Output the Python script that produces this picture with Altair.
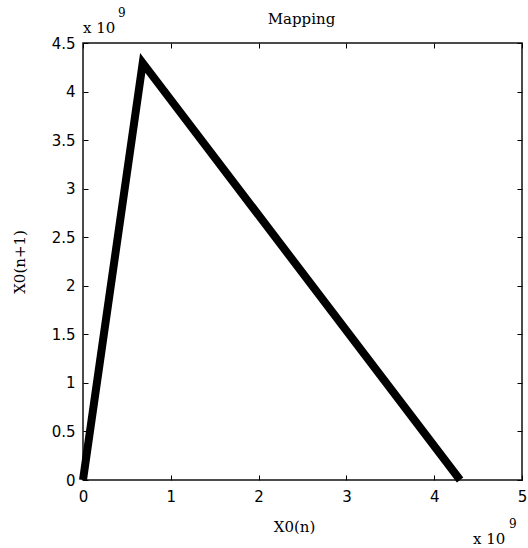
import altair as alt
import pandas as pd

# Mapping X0(n) -> X0(n+1): rises from the origin to the peak, then falls back to zero
x_vals = [0, 680000000, 4295000000]
y_vals = [0, 4295000000, 0]
step = [0, 1, 2]

x_ticks = [0, 1e9, 2e9, 3e9, 4e9, 5e9]
y_ticks = [0, 0.5e9, 1e9, 1.5e9, 2e9, 2.5e9, 3e9, 3.5e9, 4e9, 4.5e9]

title_text = "Mapping"
x_title = "X0(n)"
y_title = "X0(n+1)"
exp_base = "x 10"
exp_power = "9"

W, H = 439, 437
SERIF = "DejaVu Serif"
SANS = "DejaVu Sans"

df = pd.DataFrame({"x": x_vals, "y": y_vals, "step": step})

xs = alt.Scale(domain=[0, 5e9], nice=False, zero=False)
ys = alt.Scale(domain=[0, 4.5e9], nice=False, zero=False)

label_expr = "datum.value / 1e9"


def tick_axis(orient, values):
    # inward-pointing ticks with no labels or domain line
    return alt.Axis(orient=orient, values=values, labels=False, domain=False,
                    grid=False, ticks=True, tickSize=5, offset=-5,
                    tickColor="#000", tickWidth=1, title=None)


base = alt.Chart(df)

curve = base.mark_line(color="#000", strokeWidth=8, strokeJoin="miter",
                       strokeCap="butt").encode(
    x=alt.X("x:Q", scale=xs,
            axis=alt.Axis(orient="bottom", values=x_ticks, labelExpr=label_expr,
                          domain=False, ticks=False, grid=False, labelFlush=False,
                          labelFont=SANS, labelFontSize=15, labelColor="#000",
                          labelPadding=9, title=x_title, titleFont=SERIF,
                          titleFontSize=15, titleFontWeight="normal",
                          titleColor="#000", titlePadding=15, titleX=211)),
    y=alt.Y("y:Q", scale=ys,
            axis=alt.Axis(orient="left", values=y_ticks, labelExpr=label_expr,
                          domain=False, ticks=False, grid=False, labelFlush=False,
                          labelFont=SANS, labelFontSize=15, labelColor="#000",
                          labelPadding=8, title=y_title, titleFont=SERIF,
                          titleFontSize=15, titleFontWeight="normal",
                          titleColor="#000", titlePadding=24)),
    order="step:Q",
)

ticks_bl = base.mark_line(opacity=0).encode(
    x=alt.X("x:Q", scale=xs, axis=tick_axis("bottom", x_ticks)),
    y=alt.Y("y:Q", scale=ys, axis=tick_axis("left", y_ticks)),
    order="step:Q",
)

ticks_tr = base.mark_line(opacity=0).encode(
    x=alt.X("x:Q", scale=xs, axis=tick_axis("top", x_ticks)),
    y=alt.Y("y:Q", scale=ys, axis=tick_axis("right", y_ticks)),
    order="step:Q",
)


def note(text, px, py, size, align="left"):
    return alt.Chart(pd.DataFrame({"t": [text]})).mark_text(
        font=SERIF, fontSize=size, color="#000", align=align, baseline="middle"
    ).encode(x=alt.value(px), y=alt.value(py), text="t:N")


notes = [
    note(title_text, W / 2 - 1, -24, 15, align="center"),
    note(exp_base, 0, -15, 15),
    note(exp_power, 35, -30, 12),
    note(exp_base, 390, 496, 15),
    note(exp_power, 426, 481, 12),
]

chart = alt.layer(curve, ticks_bl, ticks_tr, *notes).resolve_axis(
    x="independent", y="independent"
).properties(
    width=W,
    height=H,
    background="#ffffff",
    autosize=alt.AutoSizeParams(type="none"),
    padding={"left": 83, "top": 43, "right": 6, "bottom": 68},
).configure_view(
    stroke="#111", strokeWidth=1.5
)

chart.save("out.html", embed_options={"renderer": "svg", "actions": False})
